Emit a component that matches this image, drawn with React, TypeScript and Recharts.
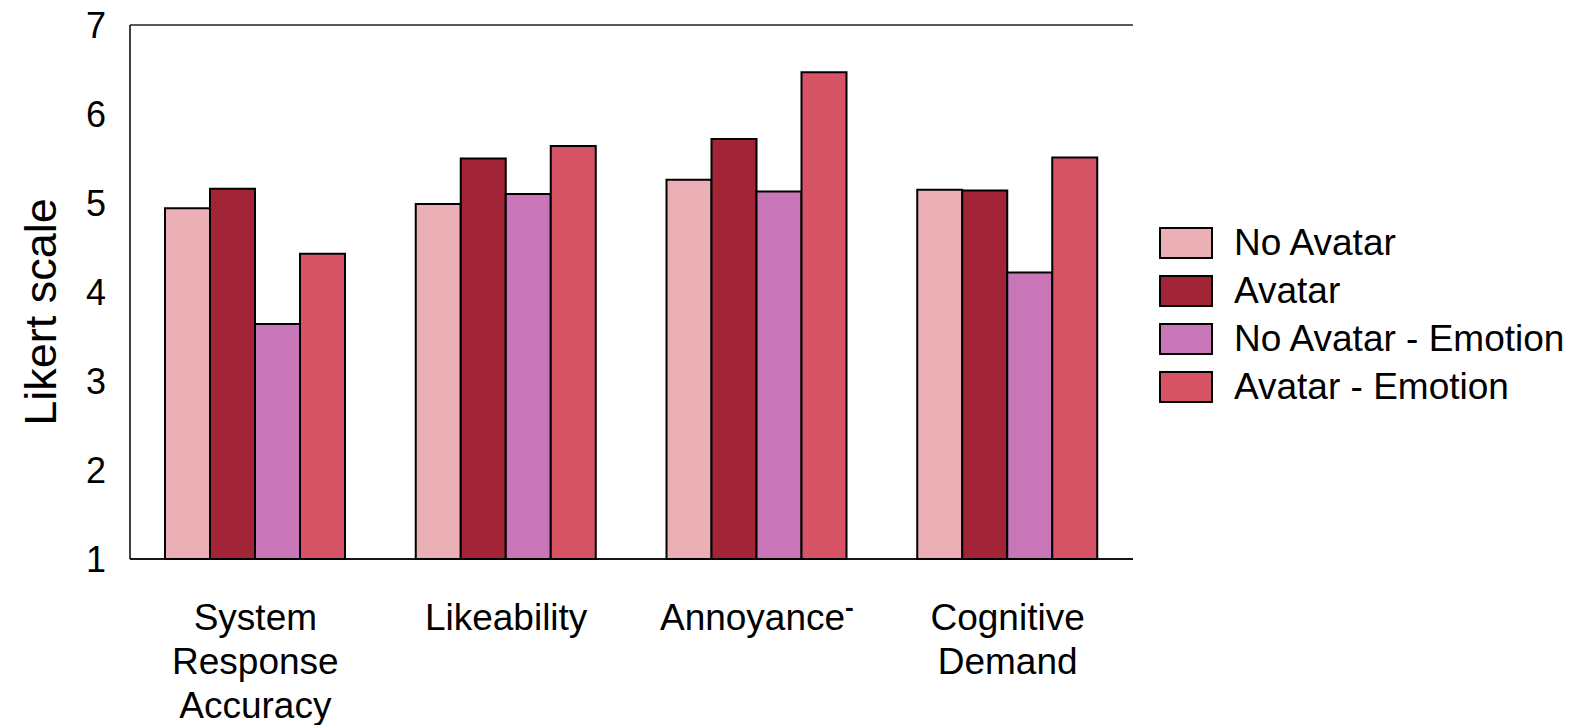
import React from 'react';
import { BarChart, Bar, XAxis, YAxis, CartesianGrid, Legend } from 'recharts';

const categories = ['System Response Accuracy', 'Likeability', 'Annoyance', 'Cognitive Demand'];
const tickLines = [['System', 'Response', 'Accuracy'], ['Likeability'], ['Annoyance'], ['Cognitive', 'Demand']];
const tickSuperscript = ['', '', '-', ''];
const seriesNames = ['No Avatar', 'Avatar', 'No Avatar - Emotion', 'Avatar - Emotion'];
const seriesKeys = ['noAvatar', 'avatar', 'noAvatarEmotion', 'avatarEmotion'];
const seriesColors = ['#EBAFB6', '#A12537', '#C876B7', '#D65366'];
const noAvatar = [4.94, 4.99, 5.26, 5.15];
const avatar = [5.16, 5.5, 5.72, 5.14];
const noAvatarEmotion = [3.64, 5.1, 5.13, 4.22];
const avatarEmotion = [4.43, 5.64, 6.47, 5.51];
const yTicks = [1, 2, 3, 4, 5, 6, 7];

const data = categories.map((c, i) => ({
  category: c,
  idx: i,
  noAvatar: noAvatar[i],
  avatar: avatar[i],
  noAvatarEmotion: noAvatarEmotion[i],
  avatarEmotion: avatarEmotion[i],
}));

const FONT = '"Liberation Sans", Arial, sans-serif';

const XTick = (props: any) => {
  const { x, y, payload } = props;
  const i = categories.indexOf(payload.value);
  const lines = tickLines[i] || [payload.value];
  const sup = tickSuperscript[i];
  return (
    <text x={x} y={y + 71} textAnchor="middle" fontSize={37} fontFamily={FONT} fill="#000">
      {lines.map((l, k) => (
        <tspan key={k} x={x} dy={k === 0 ? 0 : 44}>
          {l}
        </tspan>
      ))}
      {sup ? (
        <tspan dy={-14} fontSize={26} fontWeight="bold">
          {sup}
        </tspan>
      ) : null}
    </text>
  );
};

const YLabel = (props: any) => {
  const { viewBox } = props;
  const cx = viewBox.x + 32;
  const cy = viewBox.y + viewBox.height / 2 + 20;
  return (
    <text
      x={cx}
      y={cy}
      transform={`rotate(-90, ${cx}, ${cy})`}
      textAnchor="middle"
      dominantBaseline="central"
      fontSize={45}
      fontFamily={FONT}
      fill="#000"
    >
      Likert scale
    </text>
  );
};

const LegendContent = () => (
  <div style={{ paddingLeft: 26, fontFamily: FONT }}>
    {seriesNames.map((n, i) => (
      <div key={n} style={{ display: 'flex', alignItems: 'center', height: 48 }}>
        <div
          style={{
            width: 50,
            height: 28,
            background: seriesColors[i],
            border: '2px solid #000',
            marginRight: 21,
            flexShrink: 0,
          }}
        />
        <span style={{ fontSize: 37, color: '#000', whiteSpace: 'nowrap' }}>{n}</span>
      </div>
    ))}
  </div>
);

export default function App() {
  return (
    <div style={{ width: 1570, height: 725, marginTop: -8 }}>
      <BarChart
        width={1570}
        height={725}
        data={data}
        margin={{ top: 25, right: 5, bottom: 13, left: 0 }}
        barCategoryGap={35}
        barGap={0}
      >
        <CartesianGrid horizontal vertical={false} stroke="#222" strokeWidth={1.5} />
        <XAxis
          dataKey="category"
          height={153}
          tickSize={0}
          tickMargin={0}
          interval={0}
          tick={<XTick />}
          axisLine={{ stroke: '#000', strokeWidth: 1.5 }}
        />
        <YAxis
          yAxisId="left"
          width={122}
          domain={[1, 7]}
          ticks={yTicks}
          interval={0}
          tickSize={0}
          tickMargin={24}
          tick={{ fontSize: 36, fill: '#000', fontFamily: FONT }}
          axisLine={{ stroke: '#000', strokeWidth: 1.5 }}
          label={<YLabel />}
        />
        <YAxis
          yAxisId="right"
          orientation="right"
          width={0}
          domain={[1, 7]}
          tick={false}
          tickSize={0}
          axisLine={{ stroke: '#000', strokeWidth: 1.5 }}
        />
        <Legend
          layout="vertical"
          align="right"
          verticalAlign="top"
          wrapperStyle={{ top: 219, width: 440 }}
          content={<LegendContent />}
        />
        {seriesKeys.map((k, i) => (
          <Bar
            key={k}
            yAxisId="left"
            dataKey={k}
            name={seriesNames[i]}
            fill={seriesColors[i]}
            stroke="#000"
            strokeWidth={2}
            isAnimationActive={false}
          />
        ))}
      </BarChart>
    </div>
  );
}
